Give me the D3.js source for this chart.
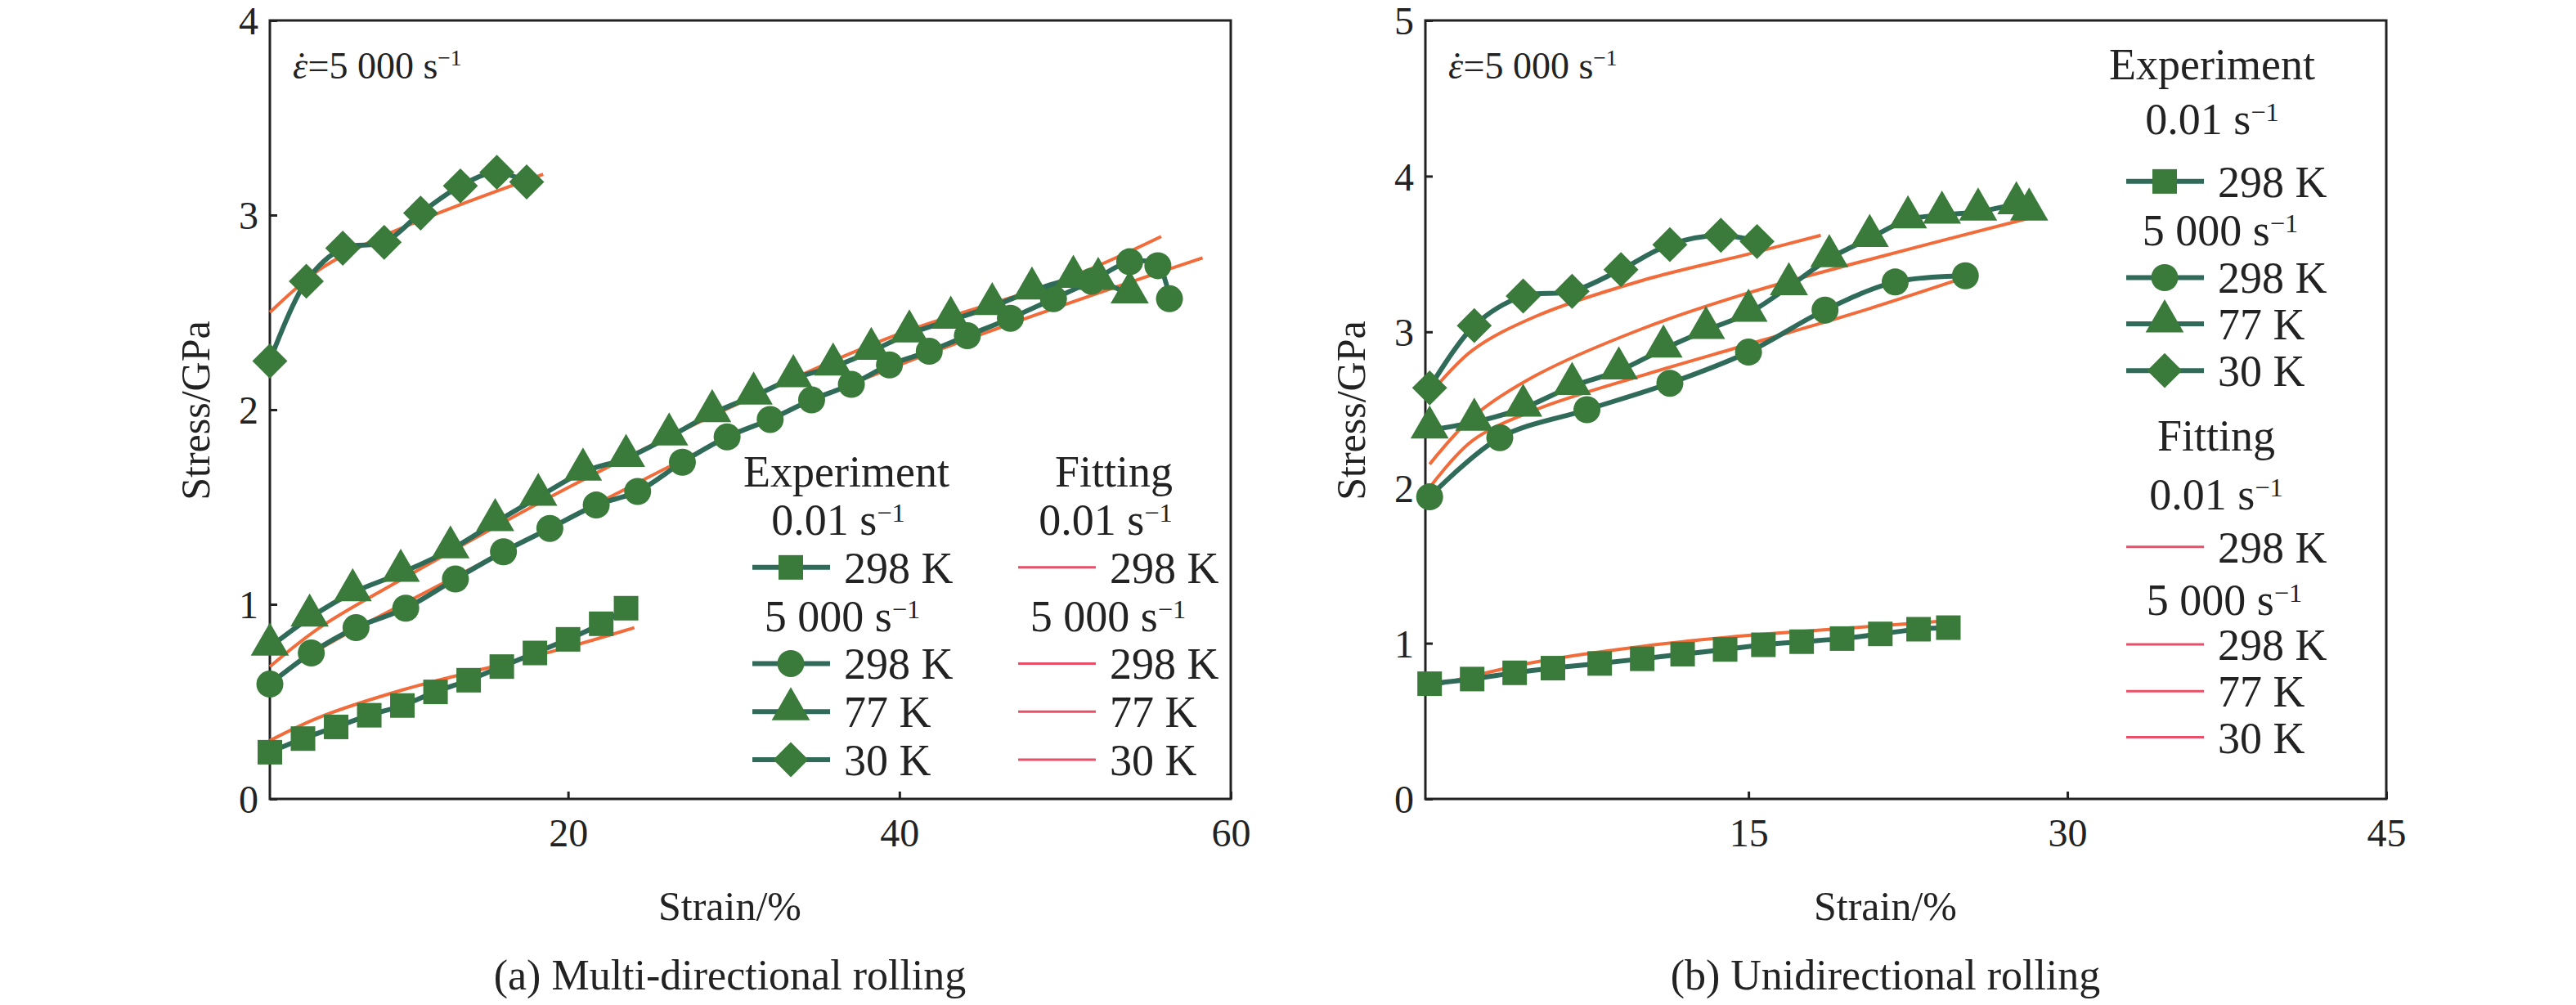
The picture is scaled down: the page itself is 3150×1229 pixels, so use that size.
<!DOCTYPE html>
<html lang="en">
<head>
<meta charset="UTF-8">
<title>Stress-strain</title>
<script src="https://cdn.jsdelivr.net/npm/d3@7"></script>
<style>
    body { margin:0; padding:0; background:#fff; }
    text { font-family: "Liberation Serif", "DejaVu Serif", serif; fill:#222; }
</style>
</head>
<body>
<svg width="3150" height="1229"></svg>
<script>
// ---- data: (a) multi-directional rolling ----
var aSq298   = [[2,0.24],[4,0.31],[6,0.37],[8,0.43],[10,0.48],[12,0.55],[14,0.61],[16,0.68],[18,0.75],[20,0.82],[22,0.9],[23.5,0.98]]
var aCi298   = [[2,0.59],[4.5,0.75],[7.2,0.88],[10.2,0.98],[13.2,1.13],[16.1,1.27],[18.9,1.39],[21.7,1.51],[24.2,1.58],[26.9,1.73],[29.6,1.86],[32.2,1.95],[34.7,2.05],[37.1,2.13],[39.4,2.23],[41.8,2.30],[44.1,2.38],[46.7,2.47],[49.3,2.57],[51.6,2.66],[53.9,2.76],[55.6,2.74],[56.3,2.57]]
var aTr77    = [[2,0.78],[4.4,0.93],[7,1.06],[9.9,1.16],[12.9,1.28],[15.6,1.42],[18.2,1.55],[20.9,1.68],[23.5,1.75],[26.1,1.86],[28.7,1.98],[31.2,2.07],[33.6,2.16],[36,2.22],[38.3,2.30],[40.6,2.39],[43.1,2.46],[45.6,2.53],[48,2.61],[50.5,2.67],[52,2.66],[53.9,2.59]]
var aDi30    = [[2,2.25],[4.2,2.66],[6.4,2.83],[8.9,2.86],[11.1,3.01],[13.5,3.15],[15.7,3.22],[17.5,3.17]]
var aFit001  = [[2,0.3],[5,0.42],[10,0.56],[15,0.67],[20,0.78],[24,0.88]]
var aFit298  = [[2,0.6],[5,0.77],[10,1.0],[20,1.44],[30,1.87],[40,2.23],[50,2.54],[58.3,2.78]]
var aFit77   = [[2,0.68],[5,0.88],[10,1.13],[20,1.6],[30,2.02],[40,2.39],[50,2.67],[55.8,2.89]]
var aFit30   = [[2,2.5],[5,2.72],[8,2.86],[11,2.97],[14,3.07],[18.5,3.21]]
// ---- data: (b) unidirectional rolling ----
var bSq298   = [[0,0.74],[2,0.77],[4,0.81],[5.8,0.84],[8,0.87],[10,0.90],[11.9,0.93],[13.9,0.96],[15.7,0.99],[17.5,1.01],[19.4,1.03],[21.2,1.06],[23,1.09],[24.4,1.10]]
var bCi298   = [[0,1.94],[3.3,2.32],[7.4,2.50],[11.3,2.67],[15,2.87],[18.6,3.14],[21.9,3.32],[25.2,3.36]]
var bTr77    = [[0,2.37],[2.1,2.42],[4.4,2.51],[6.7,2.65],[8.9,2.75],[11,2.89],[13,3.01],[15,3.12],[16.9,3.29],[18.8,3.47],[20.7,3.60],[22.5,3.72],[24.1,3.75],[25.8,3.77],[27.6,3.81],[28.2,3.77]]
var bDi30    = [[0,2.64],[2.1,3.04],[4.4,3.23],[6.7,3.26],[9,3.40],[11.3,3.56],[13.7,3.62],[15.4,3.58]]
var bFit001  = [[0,0.72],[5,0.88],[10,0.98],[15,1.05],[20,1.10],[24.9,1.15]]
var bFit298  = [[0,2.0],[2,2.3],[5,2.5],[10,2.72],[15,2.92],[20,3.12],[25.2,3.35]]
var bFit77   = [[0,2.15],[2,2.45],[5,2.72],[10,3.02],[15,3.25],[20,3.44],[28.2,3.73]]
var bFit30   = [[0,2.6],[2,2.88],[5,3.1],[10,3.33],[15,3.5],[18.4,3.62]]

var xTicksA = [20,40,60], yTicksA = [0,1,2,3,4]
var xTicksB = [15,30,45], yTicksB = [0,1,2,3,4,5]

var lineCol = '#2f6b58', markCol = '#3a7a3a', fitCol = '#f26b3a', fitLeg = '#e8506a'
var svg = d3.select('svg')
var plotTop = 25, plotBot = 977

function sup(t, base, s) {
    t.append('tspan').text(base)
    t.append('tspan').attr('dy', -16).style('font-size', '0.6em').text(s)
}

function marker(g, type, x, y, r) {
    if (type == 'sq') g.append('rect').attr('x', x-r).attr('y', y-r).attr('width', 2*r).attr('height', 2*r).attr('fill', markCol)
    else if (type == 'ci') g.append('circle').attr('cx', x).attr('cy', y).attr('r', r*1.1).attr('fill', markCol)
    else {
        var sym = d3.symbol().type(type == 'tr' ? d3.symbolTriangle : d3.symbolDiamond2).size(r*r*(type=='tr'?4.2:5.2))
        g.append('path').attr('d', sym()).attr('transform', 'translate(' + x + ',' + (type=='tr' ? y-3 : y) + ')').attr('fill', markCol)
    }
}

function panel(o) {
    var g = svg.append('g')
    var x = d3.scaleLinear().domain(o.xd).range([o.x0, o.x1])
    var y = d3.scaleLinear().domain(o.yd).range([plotBot, plotTop])
    var ln = d3.line().x(d => x(d[0])).y(d => y(d[1])).curve(d3.curveCatmullRom)

    g.append('rect').attr('x', o.x0).attr('y', plotTop).attr('width', o.x1-o.x0).attr('height', plotBot-plotTop)
        .attr('fill', 'none').attr('stroke', '#222').attr('stroke-width', 3)

    var xa = g.append('g').attr('transform', 'translate(0,' + plotBot + ')').call(d3.axisBottom(x).tickValues(o.xt).tickFormat(d3.format('d')).tickSize(-9).tickPadding(24))
    var ya = g.append('g').attr('transform', 'translate(' + o.x0 + ',0)').call(d3.axisLeft(y).tickValues(o.yt).tickFormat(d3.format('d')).tickSize(-9).tickPadding(14))
    ;[xa, ya].forEach(a => {
        a.select('.domain').remove()
        a.selectAll('line').attr('stroke', '#222').attr('stroke-width', 3)
        a.selectAll('text').style('font-family', '"Liberation Serif", serif').style('font-size', '48px').attr('fill', '#222')
    })
    ya.selectAll('text').attr('dy', '0.35em')

    o.fits.forEach(f => g.append('path').attr('d', ln(f)).attr('fill', 'none').attr('stroke', fitCol).attr('stroke-width', 4))
    o.exp.forEach(e => {
        g.append('path').attr('d', ln(e.d)).attr('fill', 'none').attr('stroke', lineCol).attr('stroke-width', 6)
        e.d.forEach(p => marker(g, e.m, x(p[0]), y(p[1]), 15))
    })

    var t = g.append('text').attr('x', o.x0 + 28).attr('y', 96).style('font-size', '46px')
    t.append('tspan').style('font-style', 'italic').text('ε')
    t.append('tspan').attr('dx', -15).text('˙')
    sup(t, '=5 000 s', '\u22121')

    g.append('text').attr('transform', 'translate(' + (o.x0 - 92) + ',502) rotate(-90)')
        .attr('text-anchor', 'middle').attr('dy', '0.35em').style('font-size', '50px').text('Stress/GPa')
    g.append('text').attr('x', (o.x0+o.x1)/2 - 25).attr('y', 1125).attr('text-anchor', 'middle').style('font-size', '50px').text('Strain/%')
    g.append('text').attr('x', (o.x0+o.x1)/2 - 25).attr('y', 1210).attr('text-anchor', 'middle').style('font-size', '52px').text(o.cap)

    o.legend.forEach(r => {
        var yy = r.y * 0.784
        if (r.head) {
            var h = g.append('text').attr('x', r.x).attr('y', yy + 19).attr('text-anchor', 'middle').style('font-size', '54px')
            if (r.s) sup(h, r.head, '\u22121'); else h.text(r.head)
        } else {
            g.append('line').attr('x1', r.x).attr('x2', r.x + 95).attr('y1', yy).attr('y2', yy)
                .attr('stroke', r.m ? lineCol : fitLeg).attr('stroke-width', r.m ? 6 : 3)
            if (r.m) marker(g, r.m, r.x + 47, yy, 15)
            g.append('text').attr('x', r.x + 112).attr('y', yy + 19).style('font-size', '54px').text(r.t)
        }
    })
}

panel({
    x0: 330, x1: 1505, xd: [2, 60], yd: [0, 4], xt: xTicksA, yt: yTicksA,
    cap: '(a) Multi-directional rolling',
    fits: [aFit001, aFit298, aFit77, aFit30],
    exp: [{d: aSq298, m: 'sq'}, {d: aCi298, m: 'ci'}, {d: aTr77, m: 'tr'}, {d: aDi30, m: 'di'}],
    legend: [
        {head: 'Experiment', x: 1035, y: 735}, {head: '0.01 s', s: 1, x: 1025, y: 810},
        {x: 920, y: 885, m: 'sq', t: '298 K'}, {head: '5 000 s', s: 1, x: 1030, y: 960},
        {x: 920, y: 1035, m: 'ci', t: '298 K'}, {x: 920, y: 1110, m: 'tr', t: '77 K'}, {x: 920, y: 1185, m: 'di', t: '30 K'},
        {head: 'Fitting', x: 1362, y: 735}, {head: '0.01 s', s: 1, x: 1352, y: 810},
        {x: 1245, y: 885, t: '298 K'}, {head: '5 000 s', s: 1, x: 1355, y: 960},
        {x: 1245, y: 1035, t: '298 K'}, {x: 1245, y: 1110, t: '77 K'}, {x: 1245, y: 1185, t: '30 K'}
    ]
})

panel({
    x0: 1743, x1: 2918, xd: [-0.2, 45], yd: [0, 5], xt: xTicksB, yt: yTicksB,
    cap: '(b) Unidirectional rolling',
    fits: [bFit001, bFit298, bFit77, bFit30],
    exp: [{d: bSq298, m: 'sq'}, {d: bCi298, m: 'ci'}, {d: bTr77, m: 'tr'}, {d: bDi30, m: 'di'}],
    legend: [
        {head: 'Experiment', x: 2705, y: 100}, {head: '0.01 s', s: 1, x: 2705, y: 185},
        {x: 2600, y: 283, m: 'sq', t: '298 K'}, {head: '5 000 s', s: 1, x: 2715, y: 358},
        {x: 2600, y: 433, m: 'ci', t: '298 K'}, {x: 2600, y: 505, m: 'tr', t: '77 K'}, {x: 2600, y: 578, m: 'di', t: '30 K'},
        {head: 'Fitting', x: 2710, y: 678}, {head: '0.01 s', s: 1, x: 2710, y: 770},
        {x: 2600, y: 853, t: '298 K'}, {head: '5 000 s', s: 1, x: 2720, y: 935},
        {x: 2600, y: 1005, t: '298 K'}, {x: 2600, y: 1078, t: '77 K'}, {x: 2600, y: 1150, t: '30 K'}
    ]
})
</script>
</body>
</html>
